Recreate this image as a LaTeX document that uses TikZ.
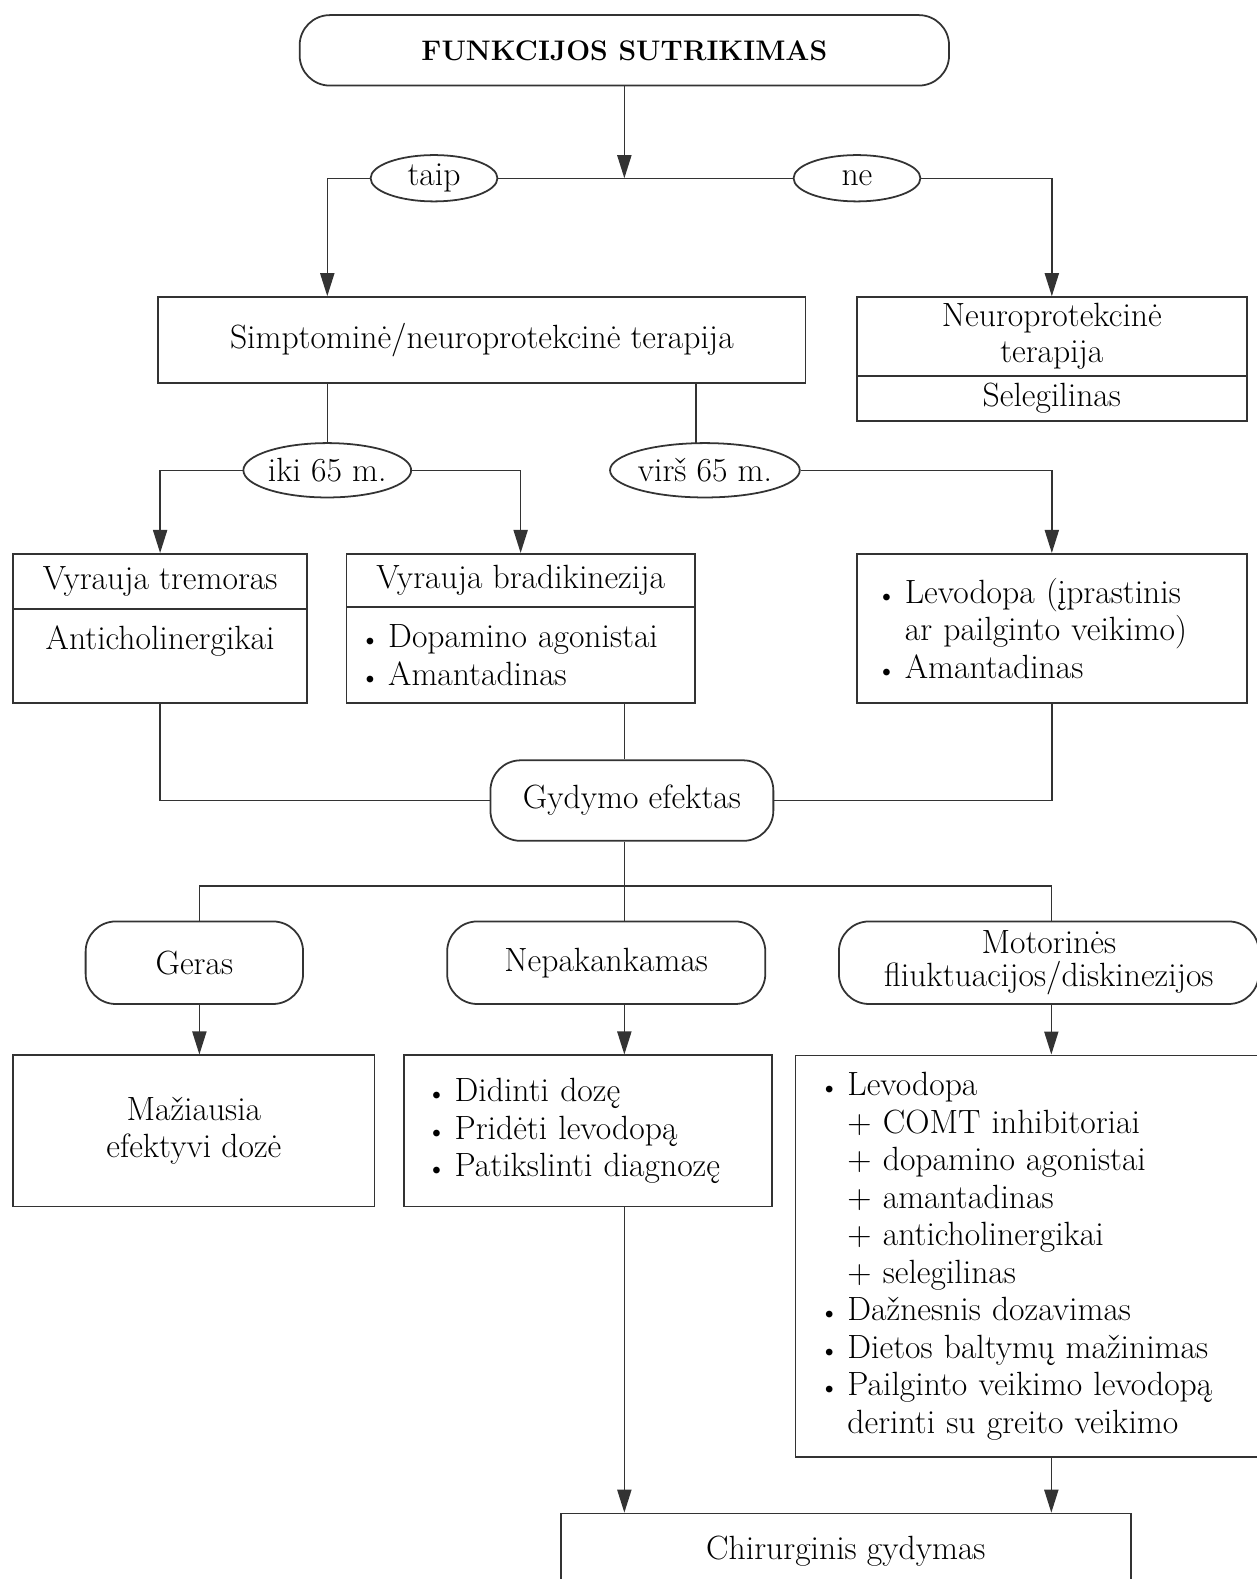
\documentclass[tikz,border=0pt]{standalone}
\usepackage{fontspec}
\usepackage{tikz}
\usetikzlibrary{arrows.meta,shapes.geometric,positioning,calc}
\tikzstyle{box}=[draw=black!80,line width=1pt,rectangle,inner sep=0pt,align=center]
\tikzstyle{rbox}=[box,rounded corners=0.6cm]
\tikzstyle{yesno}=[draw=black!80,line width=1pt,ellipse,inner sep=0pt]
\tikzstyle{lst}=[box,align=left]
\tikzstyle{link}=[draw=black!80,line width=0.8pt]
\tikzstyle{arr}=[-{Triangle[length=13pt,width=8pt]}]
\newcommand*{\itm}{\makebox[0.55cm][l]{\fontsize{14}{14}\selectfont\textbullet}}
\newcommand*{\ind}{\hspace*{0.55cm}}

\begin{document}
\begin{tikzpicture}[x=0.02cm,y=-0.02cm,font=\fontsize{19}{21.2}\selectfont]
            \useasboundingbox (0,0) rectangle (1248,1568);
            % columns of the vertical links
            \coordinate (cL) at (325,177);
            \coordinate (cM) at (620,177);
            \coordinate (cV) at (691,440);
            \coordinate (cA) at (198,880);
            \coordinate (cB) at (620,880);
            \coordinate (cC) at (1044,880);
            % start
            \node[rbox,minimum width=12.9cm,minimum height=1.4cm,font=\fontsize{16}{19}\selectfont\bfseries] (top) at (620,50) {FUNKCIJOS SUTRIKIMAS};
            \node[yesno,minimum width=2.52cm,minimum height=0.92cm] (taip) at (431,177) {taip};
            \node[yesno,minimum width=2.52cm,minimum height=0.92cm] (ne) at (851,177) {ne};
            \node[box,minimum width=12.86cm,minimum height=1.7cm] (simp) at (478.5,337.5) {Simptominė/neuroprotekcinė terapija};
            \node[box,minimum width=7.74cm,minimum height=1.56cm] (neuro) at (1044.5,334) {Neuroprotekcinė\\[-1pt]terapija};
            \node[box,minimum width=7.74cm,minimum height=0.9cm] (sele) at (1044.5,395.5) {Selegilinas};
            % age
            \node[yesno,minimum width=3.22cm,minimum height=1.08cm] (iki) at (325,467) {iki 65 m.};
            \node[yesno,minimum width=3.18cm,minimum height=1.08cm] (virs) at (700,467) {virš 65 m.};
            \node[box,minimum width=5.84cm,minimum height=1.1cm] (tremT) at (159,577.5) {Vyrauja tremoras};
            \node[box,minimum width=5.84cm,minimum height=1.86cm] (tremB) at (159,651.5) {Anticholinergikai\\\mbox{}};
            \node[box,minimum width=6.92cm,minimum height=1.06cm] (bradT) at (517,576.5) {Vyrauja bradikinezija};
            \node[lst,minimum width=6.92cm,minimum height=1.9cm,inner xsep=0.28cm,text width=6.36cm] (bradB) at (517,650.5) {\itm Dopamino agonistai\\\itm Amantadinas};
            \node[lst,minimum width=7.74cm,minimum height=2.96cm,inner xsep=0.4cm,text width=6.94cm] (r65) at (1044.5,624) {\itm Levodopa (įprastinis\\\ind ar pailginto veikimo)\\\itm Amantadinas\\[4pt]};
            % effect
            \node[rbox,minimum width=5.62cm,minimum height=1.6cm] (gyd) at (627.5,795) {Gydymo efektas};
            \node[rbox,minimum width=4.32cm,minimum height=1.64cm] (geras) at (193,956) {Geras};
            \node[rbox,minimum width=6.32cm,minimum height=1.64cm] (nep) at (602,956) {Nepakankamas};
            \node[rbox,minimum width=8.34cm,minimum height=1.64cm] (motor) at (1041.5,956) {Motorinės\\[-2pt]fliuktuacijos/diskinezijos};
            \node[box,minimum width=7.18cm,minimum height=3cm] (maz) at (192.5,1123) {Mažiausia\\efektyvi dozė};
            \node[lst,minimum width=7.32cm,minimum height=3cm,inner xsep=0.46cm,text width=6.4cm] (nepL) at (584,1123) {\itm Didinti dozę\\\itm Pridėti levodopą\\\itm Patikslinti diagnozę};
            \node[lst,minimum width=9.2cm,minimum height=7.98cm,inner xsep=0.48cm,text width=8.24cm] (motL) at (1020,1247.5) {\itm Levodopa\\
                \ind + COMT inhibitoriai\\
                \ind + dopamino agonistai\\
                \ind + amantadinas\\
                \ind + anticholinergikai\\
                \ind + selegilinas\\
                \itm Dažnesnis dozavimas\\
                \itm Dietos baltymų mažinimas\\
                \itm Pailginto veikimo levodopą\\
                \ind derinti su greito veikimo};
            \node[box,minimum width=11.32cm,minimum height=1.48cm] (chir) at (840,1540) {Chirurginis gydymas};
            % links
            \draw[link,arr] (top) -- (cM);
            \draw[link,arr] (taip.west) -| (simp.north -| cL);
            \draw[link] (taip.east) -- (ne.west);
            \draw[link,arr] (ne.east) -| (neuro.north);
            \draw[link] (simp.south -| iki) -- (iki.north);
            \draw[link] (simp.south -| cV) -- (cV);
            \draw[link,arr] (iki.west) -| (tremT.north);
            \draw[link,arr] (iki.east) -| (bradT.north);
            \draw[link,arr] (virs.east) -| (r65.north);
            \draw[link] (tremB.south) |- (gyd.west);
            \draw[link] (bradB.south -| cB) -- (gyd.north -| cB);
            \draw[link] (r65.south) |- (gyd.east);
            \draw[link] (gyd.south -| cB) -- (cB);
            \draw[link] (geras.north -| cA) -- (cA) -- (cC) -- (motor.north -| cC);
            \draw[link] (cB) -- (nep.north -| cB);
            \draw[link,arr] (geras.south -| cA) -- (maz.north -| cA);
            \draw[link,arr] (nep.south -| cB) -- (nepL.north -| cB);
            \draw[link,arr] (motor.south -| cC) -- (motL.north -| cC);
            \draw[link,arr] (nepL.south -| cB) -- (chir.north -| cB);
            \draw[link,arr] (motL.south -| cC) -- (chir.north -| cC);
        \end{tikzpicture}
\end{document}
